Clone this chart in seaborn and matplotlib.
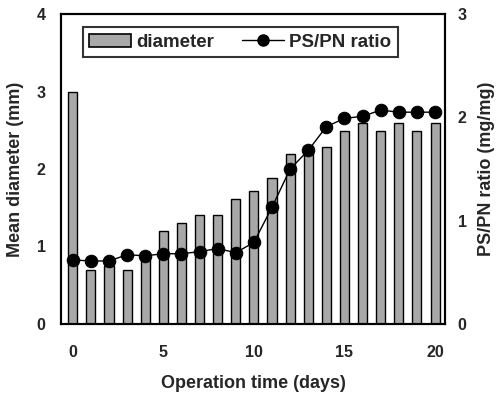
import matplotlib
matplotlib.use("Agg")
import matplotlib.pyplot as plt
import seaborn as sns
import pandas as pd
from matplotlib.patches import Patch
from matplotlib.lines import Line2D

days = list(range(21))
diameter_mm = [3.0, 0.70, 0.75, 0.70, 0.85, 1.20, 1.30, 1.40, 1.40, 1.61, 1.71,
               1.89, 2.20, 2.30, 2.28, 2.49, 2.60, 2.49, 2.60, 2.49, 2.60]
ps_pn_ratio = [0.62, 0.61, 0.61, 0.67, 0.66, 0.68, 0.68, 0.70, 0.73, 0.69, 0.79,
               1.13, 1.50, 1.68, 1.91, 1.99, 2.01, 2.07, 2.05, 2.05, 2.05]

df = pd.DataFrame({"day": days, "diameter": diameter_mm, "ratio": ps_pn_ratio})

sns.set_style("white")
plt.rcParams["font.family"] = ["Liberation Sans", "DejaVu Sans"]
plt.rcParams["font.weight"] = "bold"

LABEL_SIZE = 13
TICK_SIZE = 11.5

fig = plt.figure(figsize=(4.97, 3.97), dpi=100)
ax = fig.add_axes([0.1227, 0.1839, 0.7727, 0.7808])

sns.barplot(data=df, x="day", y="diameter", native_scale=True, width=0.5,
            color="#a8a8a8", edgecolor="black", linewidth=1.0, saturation=1,
            ax=ax, zorder=2)
ax.set_xlim(-0.65, 20.55)
ax.set_ylim(0, 4)
ax.set_xticks([0, 5, 10, 15, 20])
ax.set_yticks([0, 1, 2, 3, 4])
ax.set_xlabel("Operation time (days)", fontsize=LABEL_SIZE, fontweight="bold", labelpad=11)
ax.set_ylabel("Mean diameter (mm)", fontsize=LABEL_SIZE, fontweight="bold", labelpad=9)

ax2 = ax.twinx()
sns.lineplot(data=df, x="day", y="ratio", color="black", linewidth=1.0,
             marker="o", markersize=9, markeredgecolor="black", ax=ax2, zorder=3)
ax2.set_ylim(0, 3)
ax2.set_yticks([0, 1, 2, 3])
ax2.set_ylabel("PS/PN ratio (mg/mg)", fontsize=LABEL_SIZE, fontweight="bold", labelpad=8)
ax2.set_xlim(-0.65, 20.55)

ax.tick_params(axis="x", length=0, labelsize=TICK_SIZE, pad=15)
ax.tick_params(axis="y", length=0, labelsize=TICK_SIZE, pad=11)
ax2.tick_params(axis="y", length=0, labelsize=TICK_SIZE, pad=9)
for a in (ax, ax2):
    for s in a.spines.values():
        s.set_color("black")
        s.set_linewidth(1.5)
    for lbl in a.get_xticklabels() + a.get_yticklabels():
        lbl.set_fontweight("bold")

handles = [Patch(facecolor="#a8a8a8", edgecolor="black", linewidth=1.2),
           Line2D([], [], color="black", marker="o", markersize=8, linewidth=1.0)]
leg = ax2.legend(handles, ["diameter", "PS/PN ratio"], ncol=2,
                 loc="upper left", bbox_to_anchor=(0.057, 0.958),
                 frameon=True, fancybox=False, edgecolor="black",
                 prop={"weight": "bold", "size": 13.5},
                 handlelength=2.2, handleheight=0.7, handletextpad=0.3,
                 columnspacing=1.5, borderpad=0.35, borderaxespad=0)
leg.get_frame().set_linewidth(1.5)

fig.savefig("out.png", dpi=100)
